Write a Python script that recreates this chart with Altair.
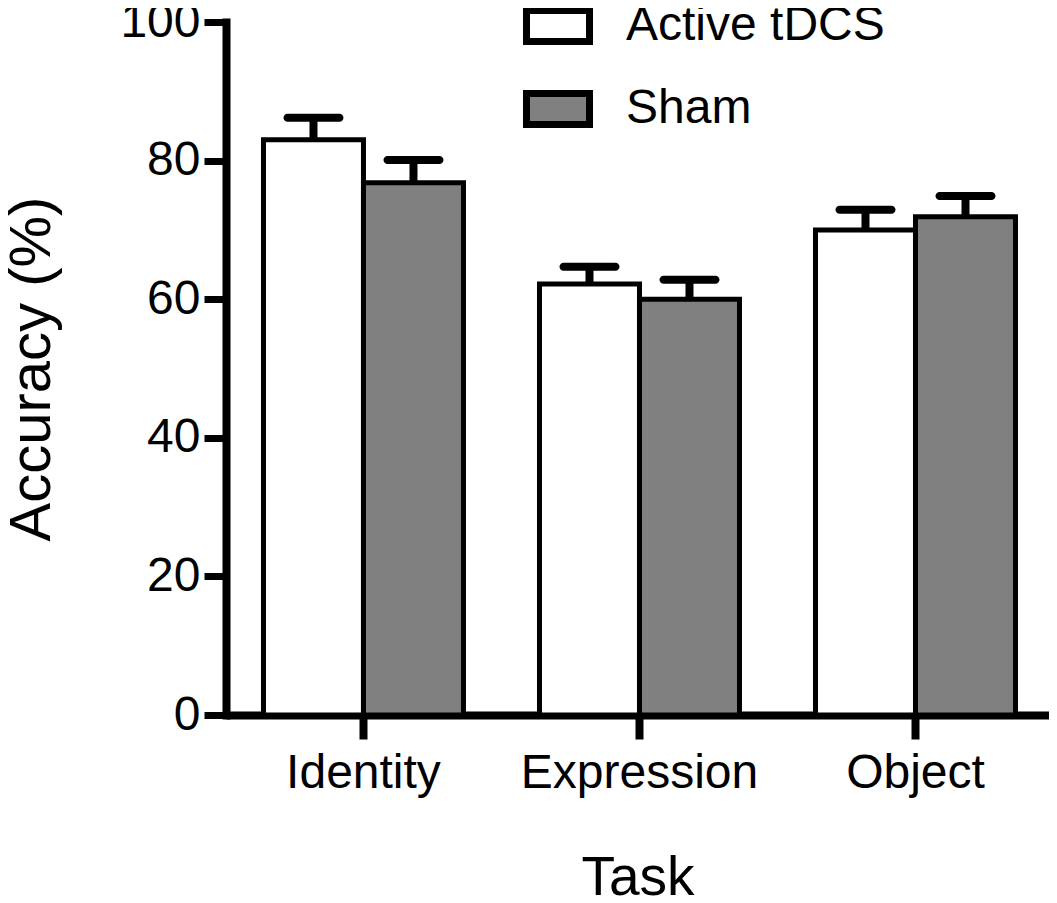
import altair as alt
import pandas as pd

tasks = ["Identity", "Expression", "Object"]
conditions = ["Active tDCS", "Sham"]
active_mean = [83.0, 62.2, 70.0]
sham_mean = [76.8, 60.0, 71.9]
active_err = [3.2, 2.5, 2.9]
sham_err = [3.3, 2.8, 3.0]

rows = []
for i, t in enumerate(tasks):
    rows.append({"task": t, "condition": conditions[0], "value": active_mean[i], "upper": active_mean[i] + active_err[i]})
    rows.append({"task": t, "condition": conditions[1], "value": sham_mean[i], "upper": sham_mean[i] + sham_err[i]})
df = pd.DataFrame(rows)

FONT = "Liberation Sans"

x_enc = alt.X(
    "task:N", sort=tasks,
    scale=alt.Scale(paddingInner=0.2754, paddingOuter=0.1286, align=0.528),
    axis=alt.Axis(
        title="Task", labelAngle=0, labelFontSize=48, labelFont=FONT, labelColor="black",
        labelBaseline="alphabetic", labelPadding=48, labelLimit=500,
        domainWidth=8, domainColor="black", tickWidth=8, tickSize=24, tickColor="black",
        titleFontSize=55, titleFont=FONT, titleFontWeight="normal", titleColor="black",
        titleBaseline="alphabetic", titleY=179, grid=False,
    ),
)
xo_enc = alt.XOffset("condition:N", sort=conditions, scale=alt.Scale(paddingInner=0, paddingOuter=0))

y_axis = alt.Axis(
    title="Accuracy (%)", values=[0, 20, 40, 60, 80, 100], grid=False,
    labelFontSize=48, labelFont=FONT, labelColor="black", labelPadding=4,
    domainWidth=8, domainColor="black", domainCap="square",
    tickWidth=7, tickSize=22, tickColor="black",
    titleFontSize=58, titleFont=FONT, titleFontWeight="normal", titleColor="black",
    titleBaseline="alphabetic", titleX=-177,
)
y_scale = alt.Scale(domain=[0, 100], nice=False, zero=True)

base = alt.Chart(df).encode(x=x_enc, xOffset=xo_enc)

bars = base.mark_bar(stroke="black", strokeWidth=5, opacity=1).encode(
    y=alt.Y("value:Q", scale=y_scale, axis=y_axis),
    fill=alt.Fill(
        "condition:N",
        scale=alt.Scale(domain=conditions, range=["white", "#808080"]),
        legend=alt.Legend(
            title=None, orient="none", legendX=297, legendY=-31,
            symbolType="M-1,-0.49H1V0.49H-1Z", symbolSize=3969,
            symbolStrokeColor="black", symbolStrokeWidth=7, symbolOpacity=1,
            labelFontSize=48, labelFont=FONT, labelColor="black", labelOffset=33,
            rowPadding=18, padding=0, labelLimit=400,
        ),
    ),
)

stems = base.mark_rule(color="black", strokeWidth=8).encode(
    y=alt.Y("value:Q", scale=y_scale, axis=y_axis), y2="upper:Q"
)
caps = base.mark_tick(color="black", thickness=8, size=60, cornerRadius=4, opacity=1).encode(
    y=alt.Y("upper:Q", scale=y_scale, axis=y_axis)
)

chart = alt.layer(stems, caps, bars).properties(
    width=823, height=693,
    autosize=alt.AutoSizeParams(type="none"),
    padding={"left": 218, "top": 14, "right": 0, "bottom": 185},
    background="white",
    view=alt.ViewBackground(stroke="transparent", strokeWidth=0),
).configure_view(
    stroke="transparent", strokeWidth=0
).configure_axis(grid=False)

chart.save("out.html", embed_options={"renderer": "svg", "actions": False})
